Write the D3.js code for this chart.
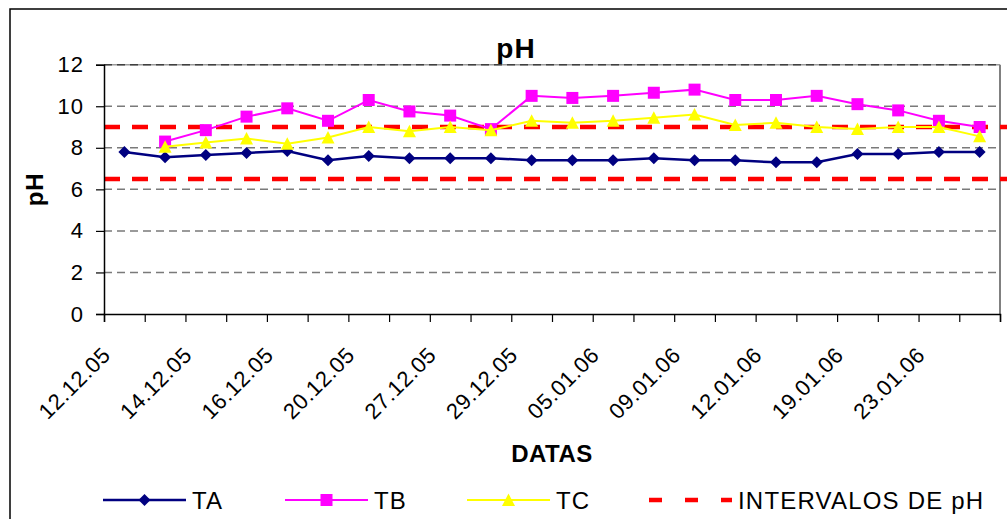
<!DOCTYPE html>
<html>
<head>
<meta charset="utf-8">
<script src="https://cdn.jsdelivr.net/npm/d3@7"></script>
<style>
  html, body { margin: 0; padding: 0; background: #fff; }
  svg { display: block; font-family: "Liberation Sans", Arial, sans-serif; }
</style>
</head>
<body>
<svg id="chart" width="1007" height="519"></svg>
<script>
// ---- data ----
const categories = ["12.12.05", "", "14.12.05", "", "16.12.05", "", "20.12.05", "", "27.12.05", "",
                    "29.12.05", "", "05.01.06", "", "09.01.06", "", "12.01.06", "", "19.01.06", "",
                    "23.01.06", ""];
const TA = [7.8, 7.55, 7.65, 7.75, 7.85, 7.4, 7.6, 7.5, 7.5, 7.5, 7.4, 7.4, 7.4, 7.5, 7.4, 7.4, 7.3, 7.3, 7.7, 7.7, 7.8, 7.8];
const TB = [null, 8.3, 8.85, 9.5, 9.9, 9.3, 10.3, 9.75, 9.55, 8.9, 10.5, 10.4, 10.5, 10.65, 10.8, 10.3, 10.3, 10.5, 10.1, 9.8, 9.3, 9.0];
const TC = [null, 8.05, 8.25, 8.45, 8.2, 8.5, 9.0, 8.8, 9.0, 8.85, 9.3, 9.2, 9.3, 9.45, 9.6, 9.1, 9.2, 9.0, 8.9, 9.0, 9.0, 8.55];
const limits = [6.5, 9.0];
const yTicks = [0, 2, 4, 6, 8, 10, 12];
const seriesNames = ["TA", "TB", "TC", "INTERVALOS DE pH"];

// ---- layout ----
const W = 1007, H = 519;
const margin = { top: 64.7, right: 7, bottom: 205, left: 104 };
const plotW = W - margin.left - margin.right;
const plotH = H - margin.top - margin.bottom;

const svg = d3.select("#chart");

// chart area border
svg.append("rect").attr("x", 10).attr("y", 9).attr("width", 1030).attr("height", 540)
  .attr("fill", "none").attr("stroke", "#000").attr("stroke-width", 1.5);

const g = svg.append("g").attr("transform", `translate(${margin.left},${margin.top})`);

const x = d3.scaleBand().domain(d3.range(categories.length)).range([0, plotW]).padding(0);
const xEdge = d3.scaleLinear().domain([0, categories.length]).range([0, plotW]);
const y = d3.scaleLinear().domain([0, 12]).range([plotH, 0]);
const cx = i => x(i) + x.bandwidth() / 2;

// top border of plot (under the gridline)
g.append("line").attr("x1", 0).attr("x2", plotW).attr("y1", y(12)).attr("y2", y(12))
  .attr("stroke", "#9a9a9a").attr("stroke-width", 1.5);

// gridlines
g.append("g").selectAll("line").data(yTicks.filter(v => v > 0)).join("line")
  .attr("x1", 0).attr("x2", plotW)
  .attr("y1", d => y(d)).attr("y2", d => y(d))
  .attr("stroke", d => d === 12 ? "#404040" : "#7a7a7a")
  .attr("stroke-width", 1.5)
  .attr("stroke-dasharray", "8,5");

// right border of plot
g.append("line").attr("x1", plotW).attr("x2", plotW).attr("y1", 0).attr("y2", plotH)
  .attr("stroke", "#808080").attr("stroke-width", 2);

// limit lines (red dashed)
g.append("g").selectAll("line").data(limits).join("line")
  .attr("x1", 0).attr("x2", plotW + margin.right)
  .attr("y1", d => y(d)).attr("y2", d => y(d))
  .attr("stroke", "#ff0000").attr("stroke-width", 4.5)
  .attr("stroke-dasharray", "16,12");

// y axis
const yAxis = g.append("g").call(d3.axisLeft(y).tickValues(yTicks).tickSize(8).tickPadding(12).tickFormat(d3.format("d")));
yAxis.select(".domain").attr("stroke", "#000").attr("stroke-width", 1.5);
yAxis.selectAll(".tick line").attr("stroke", "#000").attr("stroke-width", 1.2);
yAxis.selectAll(".tick text").attr("font-size", 22).attr("fill", "#000")
  .attr("font-family", "Liberation Sans, Arial, sans-serif").attr("letter-spacing", 1);

// x axis (ticks on category boundaries)
const xAxis = g.append("g").attr("transform", `translate(0,${plotH})`)
  .call(d3.axisBottom(xEdge).tickValues(d3.range(categories.length + 1)).tickSize(8).tickFormat(""));
xAxis.select(".domain").attr("stroke", "#000").attr("stroke-width", 1.5);
xAxis.selectAll(".tick line").attr("stroke", "#000").attr("stroke-width", 1.2);

// x labels
g.append("g").selectAll("text").data(categories.map((c, i) => ({ c, i })).filter(d => d.c !== "")).join("text")
  .attr("transform", d => `translate(${cx(d.i) - 18},${plotH + 37}) rotate(-45)`)
  .attr("text-anchor", "end").attr("dy", "0.35em")
  .attr("font-size", 22).attr("letter-spacing", 0.6).attr("fill", "#000")
  .text(d => d.c);

// shapes
const shapes = {
  diamond: "M0,-6L6,0L0,6L-6,0Z",
  square: "M-6,-6H6V6H-6Z",
  triangle: "M0,-6.5L6.5,6L-6.5,6Z"
};

const series = [
  { name: seriesNames[0], values: TA, color: "#000080", width: 2.5, shape: shapes.diamond },
  { name: seriesNames[1], values: TB, color: "#ff00ff", width: 2, shape: shapes.square },
  { name: seriesNames[2], values: TC, color: "#ffff00", width: 2, shape: shapes.triangle }
];

const line = d3.line().defined(d => d.v != null).x(d => cx(d.i)).y(d => y(d.v));

series.forEach(s => {
  const pts = s.values.map((v, i) => ({ v, i }));
  g.append("path").datum(pts).attr("d", line)
    .attr("fill", "none").attr("stroke", s.color).attr("stroke-width", s.width);
  g.append("g").selectAll("path").data(pts.filter(d => d.v != null)).join("path")
    .attr("d", s.shape)
    .attr("transform", d => `translate(${cx(d.i)},${y(d.v)})`)
    .attr("fill", s.color);
});

// titles
svg.append("text").attr("x", 516).attr("y", 58).attr("text-anchor", "middle")
  .attr("font-size", 28).attr("font-weight", "bold").attr("letter-spacing", 1).text("pH");
svg.append("text").attr("transform", `translate(43,${margin.top + plotH / 2}) rotate(-90)`)
  .attr("text-anchor", "middle").attr("font-size", 24).attr("font-weight", "bold").attr("letter-spacing", 1).text("pH");
svg.append("text").attr("x", margin.left + plotW / 2).attr("y", 462).attr("text-anchor", "middle")
  .attr("font-size", 24).attr("font-weight", "bold").attr("letter-spacing", 0.5).text("DATAS");

// legend
const legendY = 500;
const legendX = [103, 285, 467, 649];
const legend = svg.append("g");
const legendItems = series.concat([{ name: seriesNames[3], color: "#ff0000", width: 4.5, dash: "13,23" }]);
legendItems.forEach((s, k) => {
  const lx = legendX[k];
  legend.append("line").attr("x1", lx).attr("x2", lx + 83).attr("y1", legendY).attr("y2", legendY)
    .attr("stroke", s.color).attr("stroke-width", s.width)
    .attr("stroke-dasharray", s.dash || null);
  if (s.shape) {
    legend.append("path").attr("d", s.shape).attr("transform", `translate(${lx + 41.5},${legendY})`).attr("fill", s.color);
  }
  legend.append("text").attr("x", lx + 89).attr("y", legendY + 8.5)
    .attr("font-size", 24).attr("letter-spacing", 1.2).attr("fill", "#000").text(s.name);
});
</script>
</body>
</html>
